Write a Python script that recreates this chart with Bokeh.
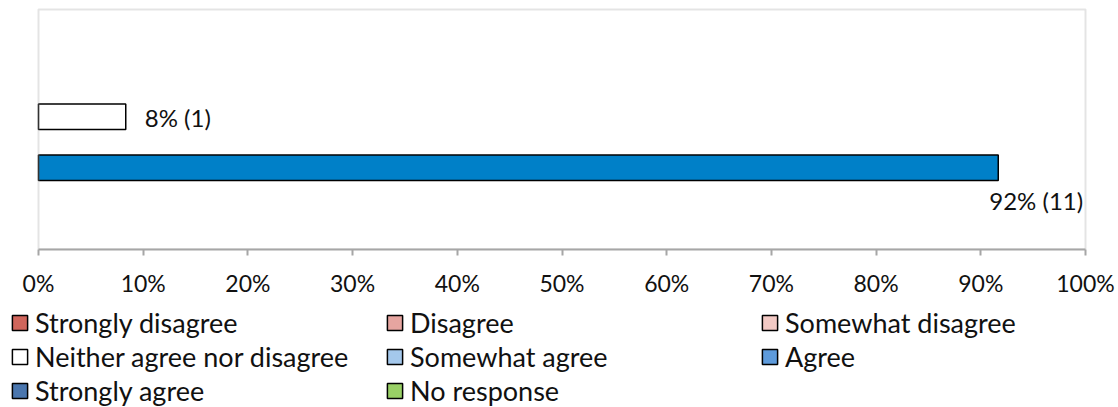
from bokeh.plotting import figure
from bokeh.layouts import column
from bokeh.models import (ColumnDataSource, Range1d, FixedTicker, BoxAnnotation,
                          NumeralTickFormatter, Legend, LegendItem)
from bokeh.core.properties import value
from bokeh.embed import file_html
from bokeh.resources import INLINE

# ---- data ----
series = ["Strongly disagree", "Disagree", "Somewhat disagree",
          "Neither agree nor disagree", "Somewhat agree", "Agree",
          "Strongly agree", "No response"]
counts = [0, 0, 0, 1, 0, 11, 0, 0]
bar_colors = ["#D0665C", "#E6A5A0", "#F2C9C4", "#FFFFFF",
              "#A4C8EC", "#0080C8", "#4A76AE", "#99D066"]
legend_colors = ["#D0665C", "#E6A5A0", "#F2C9C4", "#FFFFFF",
                 "#A4C8EC", "#5E9BDC", "#4A76AE", "#99D066"]
x_ticks = [0.0, 0.1, 0.2, 0.3, 0.4, 0.5, 0.6, 0.7, 0.8, 0.9, 1.0]

FONT = "Lato"
TXT = "#111111"
GRID = "#A6A6A6"
total = sum(counts)
shares = [c / total for c in counts]
slot = [i + 0.5 for i in range(len(series))]   # one slot per series, top to bottom

# layout geometry (pixels)
W, H_MAIN, H_LEG = 1118, 300, 107
PLOT_L, PLOT_W = 38, 1047          # plot area left edge and width
PLOT_T, PLOT_B = 9, 249            # plot area top and bottom
SLOT_PX = 25.5
GAP = ((PLOT_B - PLOT_T) / SLOT_PX - len(series)) / 2   # empty space above/below bars

y_top_edge = -GAP
y_bottom = len(series) + GAP
y_frame_top = y_top_edge - PLOT_T / SLOT_PX

# ---- main chart ----
p = figure(width=W, height=H_MAIN, output_backend="svg", toolbar_location=None,
           x_range=Range1d(-PLOT_L / PLOT_W, (W - PLOT_L) / PLOT_W),
           y_range=Range1d(y_bottom, y_frame_top),
           min_border_left=0, min_border_right=0, min_border_top=0,
           min_border_bottom=H_MAIN - PLOT_B)

p.background_fill_color = "white"
p.border_fill_color = "white"
p.outline_line_color = None
p.xgrid.visible = False
p.ygrid.visible = False
p.yaxis.visible = False

# plot-area border (top, left, right)
p.add_layout(BoxAnnotation(left=0, right=1, top=y_top_edge, fill_alpha=0,
                           line_color=GRID, line_width=2))

ax = p.xaxis[0]
ax.ticker = FixedTicker(ticks=x_ticks)
ax.formatter = NumeralTickFormatter(format="0%")
ax.bounds = (0, 1)
ax.axis_line_color = GRID
ax.axis_line_width = 2
ax.major_tick_line_color = GRID
ax.major_tick_line_width = 2
ax.major_tick_in = 0
ax.major_tick_out = 6
ax.minor_tick_line_color = None
ax.major_label_text_font = FONT
ax.major_label_text_font_size = "23px"
ax.major_label_text_color = TXT
ax.major_label_standoff = 13

# bars (only non-zero series are visible, as in the source)
idx = [i for i, c in enumerate(counts) if c > 0]
bar_src = ColumnDataSource(dict(
    y=[slot[i] for i in idx],
    right=[shares[i] for i in idx],
    color=[bar_colors[i] for i in idx],
))
p.hbar(y="y", left=0, right="right", height=1.0, source=bar_src,
       fill_color="color", line_color="black", line_width=1.5)

# data labels
lab_x, lab_y, lab_t, xo, yo = [], [], [], [], []
for i in idx:
    lab_x.append(shares[i])
    lab_y.append(slot[i])
    lab_t.append(f"{round(shares[i]*100)}% ({counts[i]})")
    if shares[i] > 0.85:
        xo.append(-9); yo.append(33)
    else:
        xo.append(19); yo.append(1)
lab_src = ColumnDataSource(dict(x=lab_x, y=lab_y, text=lab_t, xo=xo, yo=yo))
p.text(x="x", y="y", text="text", x_offset="xo", y_offset="yo", source=lab_src,
       text_font=value(FONT), text_font_size="24px", text_color=TXT,
       text_align="left", text_baseline="middle")

# ---- legend panel ----
lg = figure(width=W, height=H_LEG, output_backend="svg", toolbar_location=None,
            x_range=Range1d(0, 1), y_range=Range1d(0, 1),
            x_axis_location=None, y_axis_location=None,
            min_border_left=0, min_border_right=0, min_border_top=0,
            min_border_bottom=0)
lg.grid.visible = False
lg.outline_line_color = None
lg.background_fill_color = "white"
lg.border_fill_color = "white"

items = []
for i, (name, col) in enumerate(zip(series, legend_colors)):
    # hidden one-row renderer that only supplies the legend swatch
    src = ColumnDataSource(dict(y=[slot[i]], right=[shares[i]]))
    r = lg.hbar(y="y", left=0, right="right", height=0.01, source=src,
                fill_color=col, line_color="black", line_width=1.5,
                visible=False)
    items.append(LegendItem(label=name, renderers=[r]))

legend = Legend(items=items, orientation="horizontal", ncols=3,
                location=(10, 0),
                glyph_width=19, glyph_height=19, label_standoff=6,
                label_width=349, label_height=27, spacing=1,
                padding=0, margin=0, border_line_color=None,
                background_fill_alpha=0,
                label_text_font=FONT, label_text_font_size="27px",
                label_text_color=TXT)
lg.add_layout(legend, "center")

layout = column(p, lg, spacing=0)
open("out.html", "w").write(file_html(layout, INLINE))
